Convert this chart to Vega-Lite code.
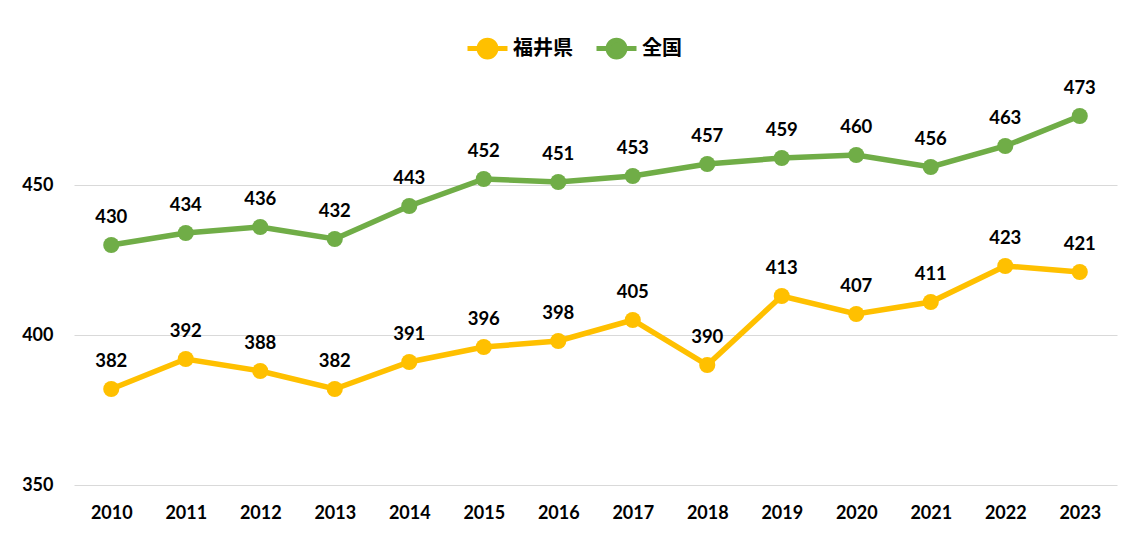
{
  "$schema": "https://vega.github.io/schema/vega-lite/v6.json",
  "autosize": "none",
  "width": 1043,
  "height": 450,
  "padding": {"left": 74, "top": 35, "right": 17, "bottom": 54},
  "background": "white",
  "config": {"view": {"stroke": null}, "font": "Lato"},
  "data": {
    "values": [
      {"year": "2010", "series": "福井県", "value": 382},
      {"year": "2011", "series": "福井県", "value": 392},
      {"year": "2012", "series": "福井県", "value": 388},
      {"year": "2013", "series": "福井県", "value": 382},
      {"year": "2014", "series": "福井県", "value": 391},
      {"year": "2015", "series": "福井県", "value": 396},
      {"year": "2016", "series": "福井県", "value": 398},
      {"year": "2017", "series": "福井県", "value": 405},
      {"year": "2018", "series": "福井県", "value": 390},
      {"year": "2019", "series": "福井県", "value": 413},
      {"year": "2020", "series": "福井県", "value": 407},
      {"year": "2021", "series": "福井県", "value": 411},
      {"year": "2022", "series": "福井県", "value": 423},
      {"year": "2023", "series": "福井県", "value": 421},
      {"year": "2010", "series": "全国", "value": 430},
      {"year": "2011", "series": "全国", "value": 434},
      {"year": "2012", "series": "全国", "value": 436},
      {"year": "2013", "series": "全国", "value": 432},
      {"year": "2014", "series": "全国", "value": 443},
      {"year": "2015", "series": "全国", "value": 452},
      {"year": "2016", "series": "全国", "value": 451},
      {"year": "2017", "series": "全国", "value": 453},
      {"year": "2018", "series": "全国", "value": 457},
      {"year": "2019", "series": "全国", "value": 459},
      {"year": "2020", "series": "全国", "value": 460},
      {"year": "2021", "series": "全国", "value": 456},
      {"year": "2022", "series": "全国", "value": 463},
      {"year": "2023", "series": "全国", "value": 473}
    ]
  },
  "encoding": {
    "x": {
      "field": "year", "type": "ordinal", "title": null,
      "scale": {"type": "point", "padding": 0.5},
      "axis": {"labelAngle": 0, "ticks": false, "domain": false, "grid": false,
               "labelFont": "Lato", "labelFontSize": 18, "labelFontWeight": "bold",
               "labelColor": "#000000", "labelPadding": 19}
    },
    "y": {
      "field": "value", "type": "quantitative", "title": null,
      "scale": {"domain": [350, 500], "nice": false, "zero": false},
      "axis": {"values": [350, 400, 450], "ticks": false, "domain": false,
               "grid": true, "gridColor": "#D9D9D9", "gridWidth": 1,
               "labelFont": "Lato", "labelFontSize": 18, "labelFontWeight": "bold",
               "labelColor": "#000000", "labelPadding": 21}
    },
    "color": {
      "field": "series", "type": "nominal",
      "scale": {"domain": ["福井県", "全国"], "range": ["#FFC000", "#70AD47"]},
      "legend": {
        "title": null, "orient": "none", "direction": "horizontal",
        "legendX": 391, "legendY": -9,
        "labelFont": "Noto Sans CJK JP", "labelFontSize": 20, "labelFontWeight": "bold",
        "labelColor": "#000000", "labelOffset": 3, "columnPadding": 13,
        "symbolType": "M-1,0H1M-0.42,0A0.42,0.42 0 1,0 0.42,0A0.42,0.42 0 1,0 -0.42,0Z",
        "symbolSize": 1600, "symbolStrokeWidth": 5,
        "encode": {"symbols": {"update": {"fill": {"scale": "color", "field": "value"}, "stroke": {"scale": "color", "field": "value"}, "opacity": {"value": 1}}}}
      }
    }
  },
  "layer": [
    {"mark": {"type": "line", "strokeWidth": 5.5}},
    {"mark": {"type": "circle", "size": 260, "opacity": 1}},
    {
      "mark": {"type": "text", "dy": -28, "font": "Lato", "fontSize": 18.5, "fontWeight": "bold", "color": "#000000"},
      "encoding": {"text": {"field": "value", "type": "quantitative"}, "color": {"value": "#000000"}}
    }
  ]
}
